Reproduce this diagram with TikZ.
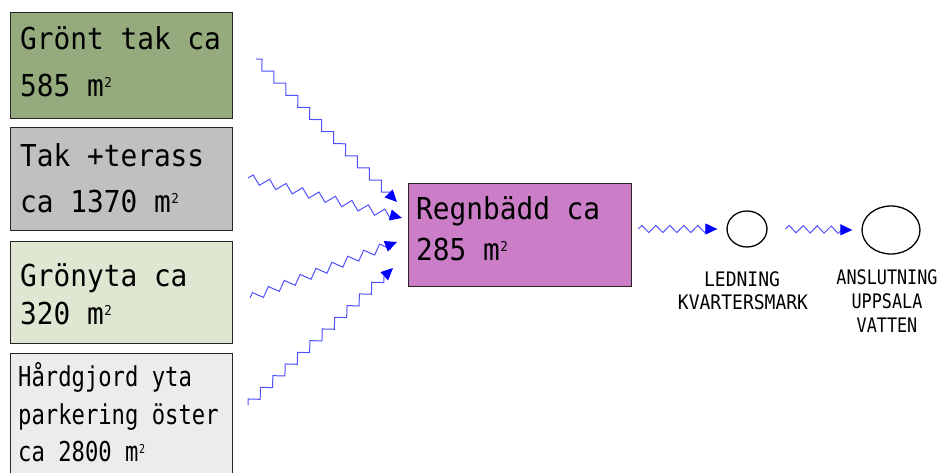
\documentclass[tikz,border=0pt]{standalone}
\usepackage{fontspec}
\setmainfont{DejaVu Sans Mono}
\newfontfamily\fmain[FakeStretch=0.92]{DejaVu Sans Mono}
\newfontfamily\fsub[FakeStretch=0.81]{DejaVu Sans Mono}
\newfontfamily\flbl[FakeStretch=0.9]{DejaVu Sans Mono}
\newfontfamily\flblr[FakeStretch=0.84]{DejaVu Sans Mono}
\usetikzlibrary{arrows.meta,decorations.pathmorphing,shapes.geometric,calc}
\definecolor{cGreen}{RGB}{149,171,126}
\definecolor{cGray}{RGB}{192,192,192}
\definecolor{cLight}{RGB}{223,231,210}
\definecolor{cPale}{RGB}{236,236,236}
\definecolor{cPurple}{RGB}{203,126,199}
\definecolor{cLine}{RGB}{40,36,40}
\definecolor{cWave}{RGB}{80,80,255}
\definecolor{cTip}{RGB}{0,0,255}
\newcommand\sqtwo{\kern0.02em\raisebox{0.31em}{\scalebox{0.45}{2}}}
\begin{document}
\begin{tikzpicture}[x=1pt,y=1pt,
  box/.style={draw=cLine, line width=1.3pt, minimum width=222pt, anchor=north west, inner sep=0pt},
  big/.style={font=\fmain\fontsize{30.2}{36}\selectfont, anchor=base west, inner sep=0pt},
  mid/.style={font=\fsub\fontsize{27.4}{32}\selectfont, anchor=base west, inner sep=0pt},
  lbl/.style={font=\flbl\fontsize{20}{24}\selectfont, anchor=base, inner sep=0pt},
  lblr/.style={font=\flblr\fontsize{20}{24}\selectfont, anchor=base, inner sep=0pt},
  ring/.style={ellipse, draw=black, line width=1.3pt, inner sep=0pt},
  flow/.style={draw=cWave, line width=1pt, decorate,
    decoration={zigzag, segment length=17pt, amplitude=4.25pt, post length=4pt},
    -{Triangle[length=12pt,width=11pt,color=cTip]}},
  flowR/.style={flow, decoration={zigzag, segment length=14pt, amplitude=3.6pt, post length=4pt}},
]
\useasboundingbox (0,0) rectangle (941,473);

% source boxes
\node[box, fill=cGreen, minimum height=106pt] (g1) at (10,461) {};
\node[big] (g1a) at (20,423) {Grönt tak ca};
\node[big] (g1b) at (20,376) {585 m\sqtwo};

\node[box, fill=cGray, minimum height=103pt] (g2) at (10,346) {};
\node[big] (g2a) at (20,306) {Tak +terass};
\node[big] (g2b) at (20,260) {ca 1370 m\sqtwo};

\node[box, fill=cLight, minimum height=102pt] (g3) at (10,232) {};
\node[big] (g3a) at (20,186) {Grönyta ca};
\node[big] (g3b) at (20,148) {320 m\sqtwo};

\node[box, fill=cPale, minimum height=135pt] (g4) at (10,120) {};
\node[mid] (g4a) at (18,86) {Hårdgjord yta};
\node[mid] (g4b) at (18,48) {parkering öster};
\node[mid] (g4c) at (18,11) {ca 2800 m\sqtwo};

% rain bed
\node[box, fill=cPurple, minimum width=223pt, minimum height=103pt] (rb) at (408,290) {};
\node[big] (rba) at (416,253) {Regnbädd ca};
\node[big] (rbb) at (416,212) {285 m\sqtwo};

% outlets
\node[ring, minimum width=40pt, minimum height=36pt] (c1) at (747,244) {};
\node[ring, minimum width=58pt, minimum height=48pt] (c2) at (891,243) {};
\node[lbl] (l1a) at (742,186) {LEDNING};
\node[lbl] (l1b) at (743,163) {KVARTERSMARK};
\node[lblr] (l2a) at (887,188) {ANSLUTNING};
\node[lblr] (l2b) at (887,164) {UPPSALA};
\node[lblr] (l2c) at (887,140) {VATTEN};

% flow connectors
\coordinate (s1) at (256,414); \coordinate (e1) at (397,271);
\coordinate (s2) at (248,295); \coordinate (e2) at (402,255);
\coordinate (s3) at (250,175); \coordinate (e3) at (397,231);
\coordinate (s4) at (248,68);  \coordinate (e4) at (393,205);
\draw[flow] (s1) -- (e1);
\draw[flow] (s2) -- (e2);
\draw[flow] (s3) -- (e3);
\draw[flow] (s4) -- (e4);

\draw[flowR] ($(rb.east|-c1.west)+(6,0)$) -- ($(c1.west)+(-9,0)$);
\draw[flowR] ($(c1.east)+(18,0)$) -- ($(c2.west)+(-9,0)$);
\end{tikzpicture}
\end{document}
